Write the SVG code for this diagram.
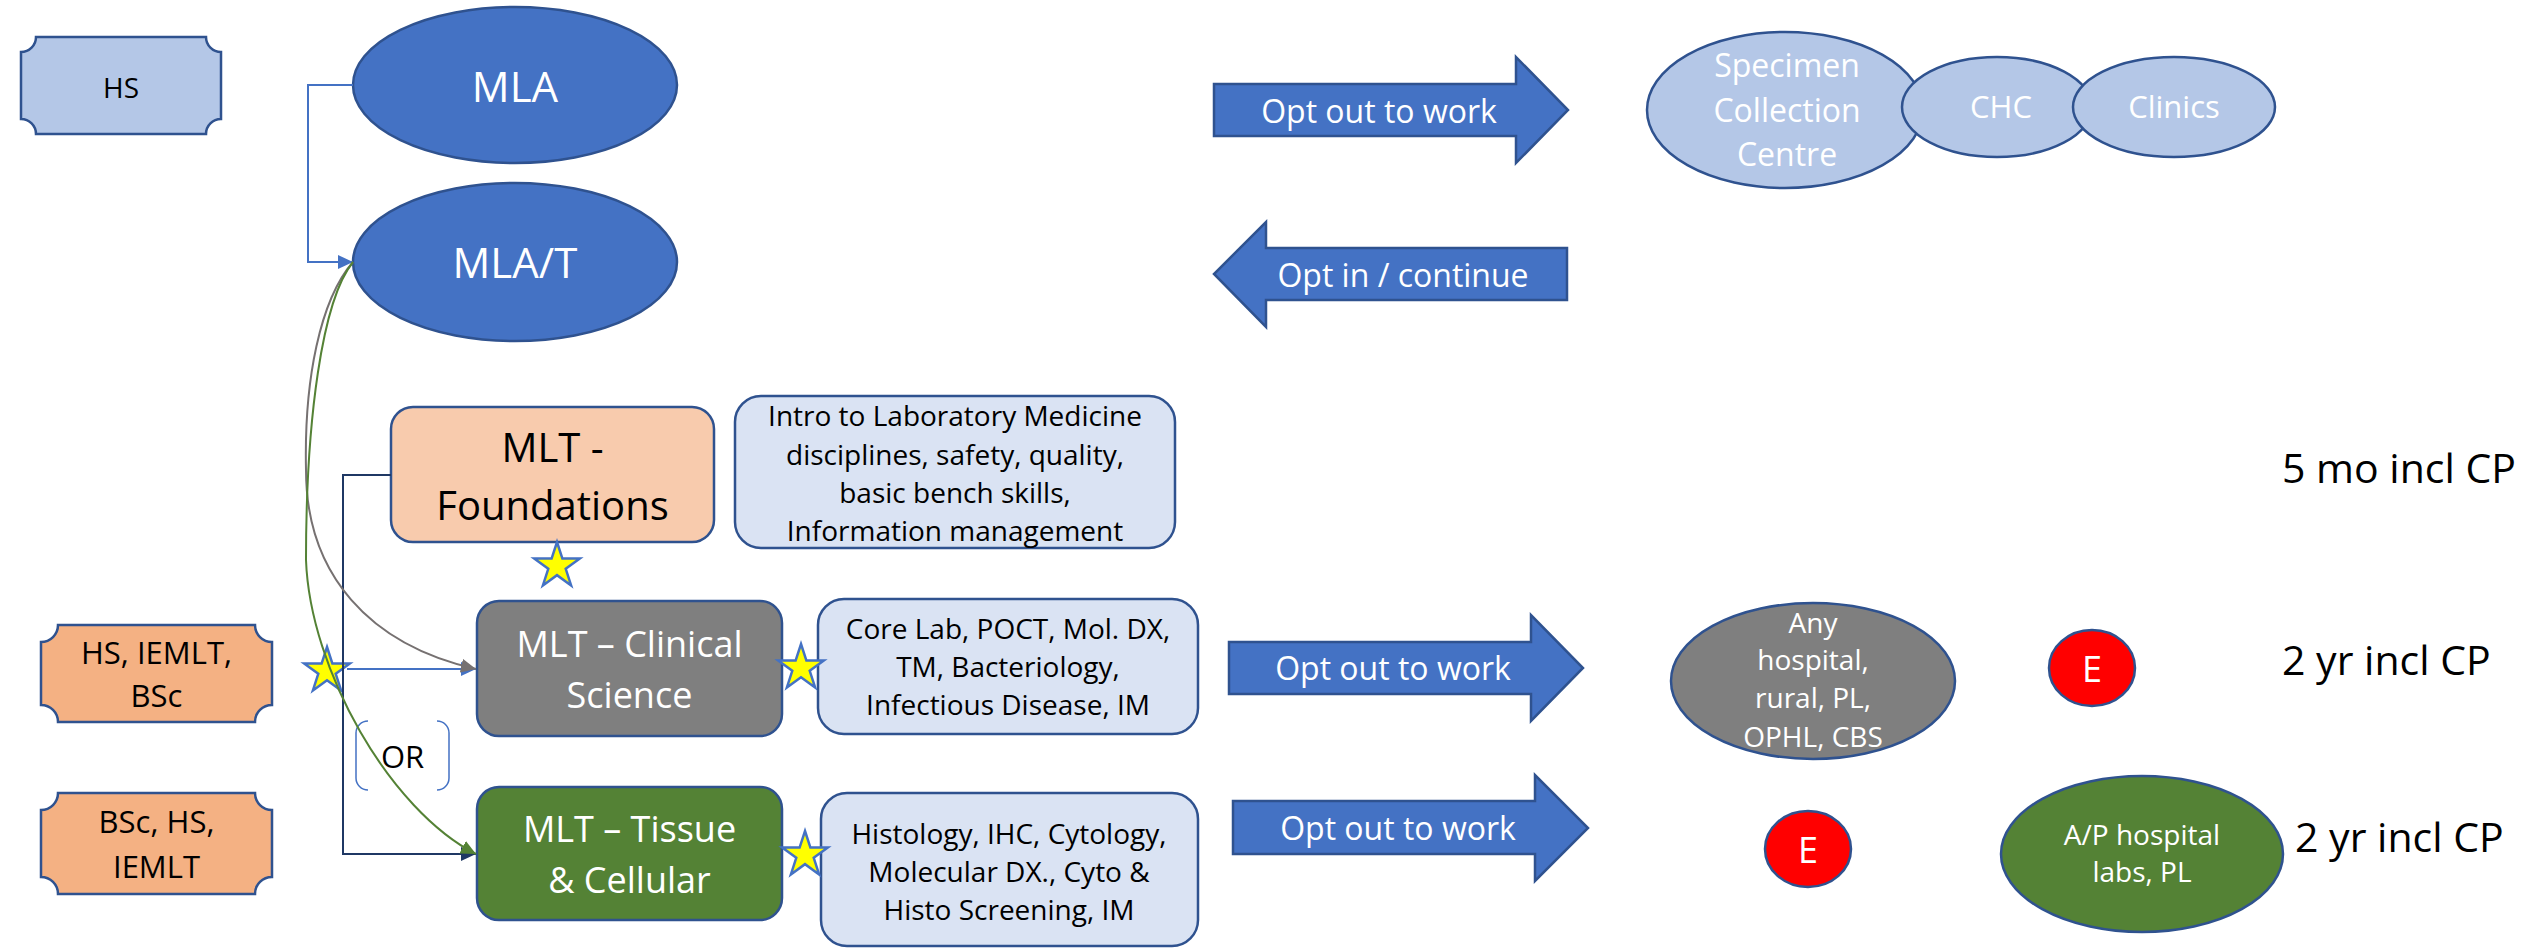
<svg xmlns="http://www.w3.org/2000/svg" xmlns:xlink="http://www.w3.org/1999/xlink" width="2531" height="948" viewBox="0 0 2531 948">
  <style>
    text { font-family: "Open Sans", "Liberation Sans", sans-serif; text-anchor: middle; }
    .dark { fill: #000000; }
    .light { fill: #FFFFFF; }
    .edge { stroke: #2F528F; stroke-width: 2.5; }
    .plaqueBlue { fill: #B4C7E7; }
    .plaqueOrange { fill: #F4B183; }
    .ell { fill: #4472C4; }
    .site { fill: #B4C7E7; }
    .desc { fill: #DAE3F3; }
    .bigArrow { fill: #4472C4; stroke: #2F528F; stroke-width: 2.5; }
    .conn { fill: none; stroke-width: 2; }
    .star { fill: #FFFF00; stroke: #4472C4; stroke-width: 2.5; stroke-linejoin: miter; }
    .t28 { font-size: 28px; }
    .t31 { font-size: 31px; }
    .t32 { font-size: 32px; }
    .t36 { font-size: 36px; }
    .t40 { font-size: 40px; }
    .t41 { font-size: 41px; text-anchor: start; }
    .t42 { font-size: 42px; }
  </style>
  <defs>
    <path id="star" d="M0,-24 L5.39,-7.42 L22.83,-7.42 L8.72,2.83 L14.11,19.42 L0,9.17 L-14.11,19.42 L-8.72,2.83 L-22.83,-7.42 L-5.39,-7.42 Z"/>
    <marker id="arrowBlue" markerUnits="userSpaceOnUse" markerWidth="16" markerHeight="16" refX="15" refY="7" orient="auto">
      <path d="M0,0 L15,7 L0,14 Z" fill="#4472C4"/>
    </marker>
    <marker id="arrowNavy" markerUnits="userSpaceOnUse" markerWidth="16" markerHeight="16" refX="15" refY="7" orient="auto">
      <path d="M0,0 L15,7 L0,14 Z" fill="#1F3864"/>
    </marker>
    <marker id="arrowGray" markerUnits="userSpaceOnUse" markerWidth="16" markerHeight="16" refX="15" refY="7" orient="auto">
      <path d="M0,0 L15,7 L0,14 Z" fill="#767171"/>
    </marker>
    <marker id="arrowGreen" markerUnits="userSpaceOnUse" markerWidth="16" markerHeight="16" refX="15" refY="7" orient="auto">
      <path d="M0,0 L15,7 L0,14 Z" fill="#548235"/>
    </marker>
  </defs>

  <rect width="2531" height="948" fill="#FFFFFF"/>

  <!-- entry qualifications -->
  <g id="hs">
    <path class="plaqueBlue edge" d="M36,37 H206 A15 15 0 0 0 221,52 V119 A15 15 0 0 0 206,134 H36 A15 15 0 0 0 21,119 V52 A15 15 0 0 0 36,37 Z"/>
    <text class="dark t28" x="121" y="98">HS</text>
  </g>
  <g id="hs-iemlt-bsc">
    <path class="plaqueOrange edge" d="M58,625 H255 A17 17 0 0 0 272,642 V705 A17 17 0 0 0 255,722 H58 A17 17 0 0 0 41,705 V642 A17 17 0 0 0 58,625 Z"/>
    <text class="dark t31" x="156.5" y="664">HS, IEMLT,</text>
    <text class="dark t31" x="156.5" y="707">BSc</text>
  </g>
  <g id="bsc-hs-iemlt">
    <path class="plaqueOrange edge" d="M58,793 H255 A17 17 0 0 0 272,810 V877 A17 17 0 0 0 255,894 H58 A17 17 0 0 0 41,877 V810 A17 17 0 0 0 58,793 Z"/>
    <text class="dark t31" x="156.5" y="833">BSc, HS,</text>
    <text class="dark t31" x="156.5" y="878">IEMLT</text>
  </g>

  <!-- assistant levels -->
  <g id="mla">
    <ellipse class="ell edge" cx="515" cy="85" rx="162" ry="78"/>
    <text class="light t42" x="515" y="102">MLA</text>
  </g>
  <g id="mla-t">
    <ellipse class="ell edge" cx="515" cy="262" rx="162" ry="79"/>
    <text class="light t42" x="515" y="278">MLA/T</text>
  </g>

  <!-- technologist streams -->
  <g id="mlt-foundations">
    <rect class="edge" x="391" y="407" width="323" height="135" rx="22" fill="#F8CBAD"/>
    <text class="dark t40" x="552.5" y="462">MLT -</text>
    <text class="dark t40" x="552.5" y="520">Foundations</text>
  </g>
  <g id="mlt-clinical">
    <rect class="edge" x="477" y="601" width="305" height="135" rx="22" fill="#7F7F7F"/>
    <text class="light t36" x="629.5" y="657">MLT – Clinical</text>
    <text class="light t36" x="629.5" y="708">Science</text>
  </g>
  <g id="mlt-tissue">
    <rect class="edge" x="477" y="787" width="305" height="133" rx="22" fill="#548235"/>
    <text class="light t36" x="629.5" y="842">MLT – Tissue</text>
    <text class="light t36" x="629.5" y="893">&amp; Cellular</text>
  </g>

  <!-- curriculum content -->
  <g id="foundations-content">
    <rect class="desc edge" x="735" y="396" width="440" height="152" rx="26"/>
    <text class="dark t28" x="955" y="426">Intro to Laboratory Medicine</text>
    <text class="dark t28" x="955" y="465">disciplines, safety, quality,</text>
    <text class="dark t28" x="955" y="503">basic bench skills,</text>
    <text class="dark t28" x="955" y="541">Information management</text>
  </g>
  <g id="clinical-content">
    <rect class="desc edge" x="818" y="599" width="380" height="135" rx="26"/>
    <text class="dark t28" x="1008" y="639">Core Lab, POCT, Mol. DX,</text>
    <text class="dark t28" x="1008" y="677">TM, Bacteriology,</text>
    <text class="dark t28" x="1008" y="715">Infectious Disease, IM</text>
  </g>
  <g id="tissue-content">
    <rect class="desc edge" x="821" y="793" width="377" height="153" rx="26"/>
    <text class="dark t28" x="1009" y="844">Histology, IHC, Cytology,</text>
    <text class="dark t28" x="1009" y="882">Molecular DX., Cyto &amp;</text>
    <text class="dark t28" x="1009" y="920">Histo Screening, IM</text>
  </g>

  <!-- OR bracket -->
  <g id="or-choice">
    <path d="M368,721 A12 12 0 0 0 356,733 V778 A12 12 0 0 0 368,790 M437,721 A12 12 0 0 1 449,733 V778 A12 12 0 0 1 437,790" fill="none" stroke="#4472C4" stroke-width="1.5"/>
    <text class="dark t31" x="402.5" y="768">OR</text>
  </g>

  <!-- exit / entry arrows -->
  <g id="opt-out-mla">
    <polygon class="bigArrow" points="1214,84 1516,84 1516,57 1568,110 1516,163 1516,136 1214,136"/>
    <text class="light t32" x="1379" y="123">Opt out to work</text>
  </g>
  <g id="opt-in">
    <polygon class="bigArrow" points="1567,248 1266,248 1266,222 1214,274 1266,327 1266,300 1567,300"/>
    <text class="light t32" x="1403" y="287">Opt in / continue</text>
  </g>
  <g id="opt-out-clinical">
    <polygon class="bigArrow" points="1229,642 1531,642 1531,615 1583,668 1531,721 1531,694 1229,694"/>
    <text class="light t32" x="1393" y="680">Opt out to work</text>
  </g>
  <g id="opt-out-tissue">
    <polygon class="bigArrow" points="1233,801 1535,801 1535,775 1588,828 1535,881 1535,854 1233,854"/>
    <text class="light t32" x="1398" y="840">Opt out to work</text>
  </g>

  <!-- workplaces -->
  <g id="specimen-centre">
    <ellipse class="site edge" cx="1785" cy="110" rx="138" ry="78"/>
    <text class="light t32" x="1787" y="77">Specimen</text>
    <text class="light t32" x="1787" y="122">Collection</text>
    <text class="light t32" x="1787" y="166">Centre</text>
  </g>
  <g id="chc">
    <ellipse class="site edge" cx="1997" cy="107" rx="95" ry="50"/>
    <text class="light t31" x="2001" y="118">CHC</text>
  </g>
  <g id="clinics">
    <ellipse class="site edge" cx="2174" cy="107" rx="101" ry="50"/>
    <text class="light t31" x="2174" y="118">Clinics</text>
  </g>
  <g id="any-hospital">
    <ellipse class="edge" cx="1813" cy="681" rx="142" ry="78" fill="#7F7F7F"/>
    <text class="light t28" x="1813" y="633">Any</text>
    <text class="light t28" x="1813" y="670">hospital,</text>
    <text class="light t28" x="1813" y="708">rural, PL,</text>
    <text class="light t28" x="1813" y="747">OPHL, CBS</text>
  </g>
  <g id="ap-hospital">
    <ellipse class="edge" cx="2142" cy="854" rx="141" ry="78" fill="#548235"/>
    <text class="light t28" x="2142" y="845">A/P hospital</text>
    <text class="light t28" x="2142" y="882">labs, PL</text>
  </g>
  <g id="exam-clinical">
    <ellipse class="edge" cx="2092" cy="668" rx="43" ry="38" fill="#FF0000"/>
    <text class="light t36" x="2092" y="682">E</text>
  </g>
  <g id="exam-tissue">
    <ellipse class="edge" cx="1808" cy="849" rx="43" ry="38" fill="#FF0000"/>
    <text class="light t36" x="1808" y="863">E</text>
  </g>

  <!-- durations -->
  <g id="durations">
    <text class="dark t41" x="2282" y="483">5 mo incl CP</text>
    <text class="dark t41" x="2282" y="675">2 yr incl CP</text>
    <text class="dark t41" x="2295" y="852">2 yr incl CP</text>
  </g>

  <!-- stars -->
  <g id="stars">
    <use xlink:href="#star" href="#star" class="star" x="557" y="566"/>
    <use xlink:href="#star" href="#star" class="star" x="327" y="671"/>
    <use xlink:href="#star" href="#star" class="star" x="801" y="668"/>
    <use xlink:href="#star" href="#star" class="star" x="805" y="855"/>
  </g>

  <!-- connectors -->
  <g id="connectors">
    <path class="conn" stroke="#4472C4" d="M353,85 H308 V262 H353" marker-end="url(#arrowBlue)"/>
    <path class="conn" stroke="#1F3864" stroke-width="3" d="M391,475 H343 V854 H476" marker-end="url(#arrowNavy)"/>
    <path class="conn" stroke="#4472C4" d="M347,669 H476" marker-end="url(#arrowBlue)"/>
    <path class="conn" stroke="#767171" d="M353,262 C320,300 304,380 306,470 C306,575 370,645 476,669" marker-end="url(#arrowGray)"/>
    <path class="conn" stroke="#548235" d="M353,262 C322,300 306,420 306,560 C310,670 390,810 476,854" marker-end="url(#arrowGreen)"/>
  </g>
</svg>
